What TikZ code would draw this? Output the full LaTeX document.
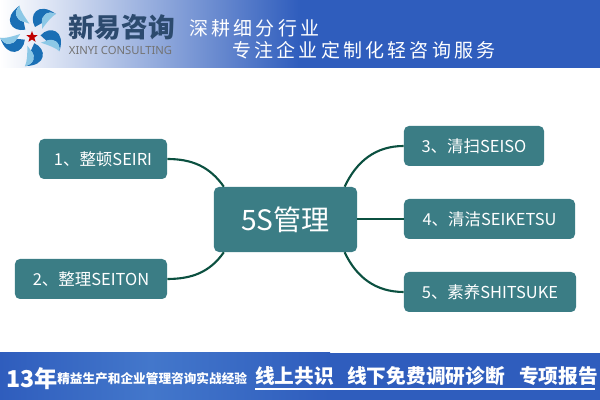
\documentclass[tikz,border=0pt]{standalone}
\usepackage{fontspec}
\setmainfont{Noto Sans CJK SC}
\newfontfamily\sloganfont[LetterSpace=17]{Noto Sans CJK SC}
\newfontfamily\latinfont{Noto Sans}
\usetikzlibrary{positioning}
\usetikzlibrary{shapes.geometric}
\definecolor{boxteal}{HTML}{3B7D85}
\definecolor{linkgreen}{HTML}{0B5040}
\definecolor{bandblue}{HTML}{2F5DBD}
\definecolor{bandlight}{HTML}{4377CB}
\definecolor{logoblue}{HTML}{1A6FB5}
\definecolor{logolight}{HTML}{8CC8E6}
\definecolor{brandink}{HTML}{2C4A6E}
\tikzset{
	itembox/.style={fill=boxteal, text=white, rounded corners=3.5pt, minimum height=1cm, inner sep=0pt, font=\fontsize{11.7}{14}\selectfont},
	hubbox/.style={itembox, minimum width=3.575cm, minimum height=1.625cm, font=\fontsize{20}{22}\selectfont},
	link/.style={draw=linkgreen, line width=1.5pt},
	bandtext/.style={text=white, anchor=west, inner sep=0pt, font=\fontsize{14}{16}\selectfont\bfseries},
	slogan/.style={text=white, anchor=west, inner sep=0pt, font=\sloganfont\fontsize{13.5}{16}\selectfont}
}
\begin{document}
\begin{tikzpicture}[x=0.025cm, y=0.025cm]
	\useasboundingbox (0,0) rectangle (600,400);
	% Banda superior y banda inferior
	\fill[left color=white, right color=bandblue] (0,332) rectangle (300,400);
	\fill[bandblue] (300,332) rectangle (600,400);
	\fill[left color=bandblue, right color=bandlight] (0,0) rectangle (150,47);
	\fill[left color=bandlight, right color=bandblue] (150,0) rectangle (330,47);
	\fill[bandblue] (330,0) rectangle (600,47);
	
	% Logo
	\foreach \a in {0,72,144,216,288} {
		\begin{scope}[shift={(32,365)}, rotate=\a]
			\fill[logoblue] (3,8) .. controls (-4,20) and (6,34) .. (24,21) .. controls (16,25) and (9,20) .. (10,12) -- cycle;
			\fill[logolight] (10,12) .. controls (9,20) and (16,25) .. (24,21) .. controls (20,19) and (16,14) .. (10,6) -- cycle;
		\end{scope}
	}
	\node[star, star points=5, star point ratio=2.4, fill=red!75!black, minimum size=0.3cm, inner sep=0pt] (logostar) at (32,363) {};
	
	% Textos de cabecera
	\node[text=brandink, font=\fontsize{19}{21}\selectfont\bfseries] (brand) at (121.5,373) {新易咨询};
	\node[text=black!55, font=\latinfont\fontsize{8}{9}\selectfont] (brandlatin) at (120.5,350) {XINYI CONSULTING};
	\node[slogan] (sloganone) at (189,372) {深耕细分行业};
	\node[slogan] (slogantwo) at (232,350) {专注企业定制化轻咨询服务};
	
	% Mapa
	\node[hubbox] (hub) at (285.5,180.5) {5S管理};
	\node[itembox, minimum width=3.2cm] (seiri) at (103,241) {1、整顿SEIRI};
	\node[itembox, minimum width=3.8cm] (seiton) at (91,121) {2、整理SEITON};
	\node[itembox, minimum width=3.5cm] (seiso) at (474,254) {3、清扫SEISO};
	\node[itembox, minimum width=4.275cm] (seiketsu) at (489.5,181) {4、清洁SEIKETSU};
	\node[itembox, minimum width=4.3cm] (shitsuke) at (490,108) {5、素养SHITSUKE};
	
	\draw[link] (seiri.east) to[out=0, in=125] (hub.152);
	\draw[link] (seiton.east) to[out=0, in=-125] (hub.-152);
	\draw[link] (seiso.west) to[out=180, in=65] (hub.29.5);
	\draw[link] (seiketsu.west) -- (hub.east |- seiketsu.west);
	\draw[link] (shitsuke.west) to[out=180, in=-65] (hub.-29.5);
	
	% Pie
	\node[bandtext, font=\fontsize{16.5}{20}\selectfont\bfseries] (years) at (6,21) {13年};
	\node[bandtext, font=\fontsize{9}{11}\selectfont\bfseries] (claim) at (57,21) {精益生产和企业管理咨询实战经验};
	\node[bandtext] (online) at (255,24) {线上共识};
	\node[bandtext] (offline) at (347,24) {线下免费调研诊断};
	\node[bandtext] (report) at (519,24) {专项报告};
	\coordinate (ruleend) at (595,11);
	\draw[white, line width=1pt] (online.west |- ruleend) -- (ruleend);
\end{tikzpicture}
\end{document}
